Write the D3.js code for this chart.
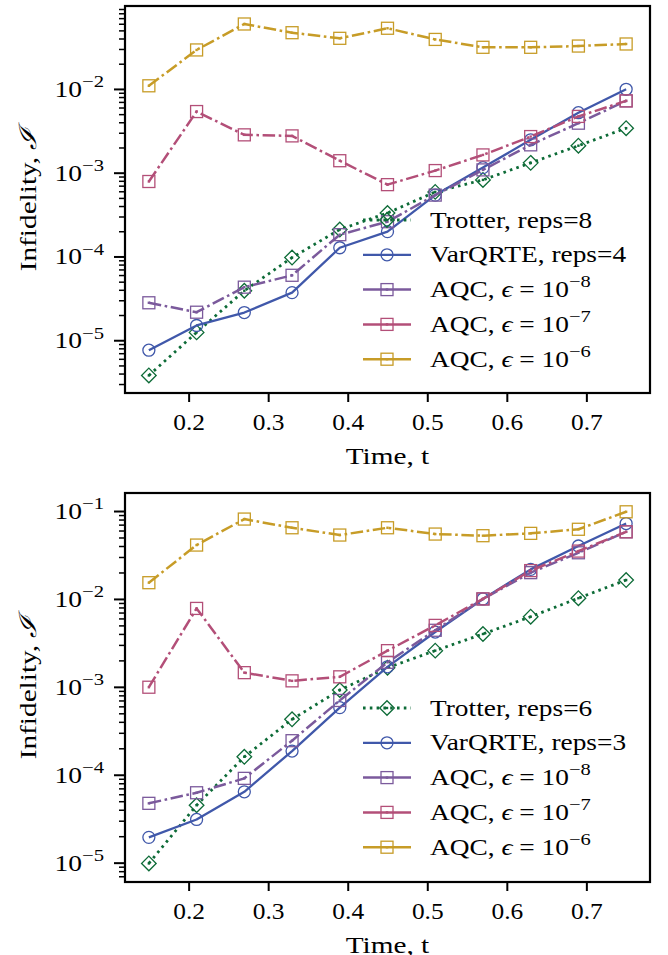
<!DOCTYPE html>
<html>
<head>
<meta charset="utf-8">
<script src="https://cdn.jsdelivr.net/npm/d3@7"></script>
<style>
  html, body { margin: 0; padding: 0; background: #fff; }
  svg { display: block; }
  text { font-family: "Liberation Serif", "DejaVu Serif", serif; fill: #000; }
</style>
</head>
<body>
<svg id="chart" width="668" height="955"></svg>
<script>
// ---------------- data ----------------
const times = [0.15, 0.21, 0.27, 0.33, 0.39, 0.45, 0.51, 0.57, 0.63, 0.69, 0.75];
const xTickValues = [0.2, 0.3, 0.4, 0.5, 0.6, 0.7];

// top panel
const topTrotter = [3.8e-6, 1.24e-5, 3.9e-5, 9.7e-5, 2.1e-4, 3.3e-4, 5.9e-4, 8.2e-4, 1.31e-3, 2.1e-3, 3.4e-3];
const topVarQRTE = [7.6e-6, 1.5e-5, 2.14e-5, 3.7e-5, 1.27e-4, 1.98e-4, 5.4e-4, 1.15e-3, 2.47e-3, 5.2e-3, 9.9e-3];
const topAQC8    = [2.8e-5, 2.16e-5, 4.3e-5, 5.96e-5, 1.82e-4, 2.6e-4, 5.4e-4, 1.08e-3, 2.15e-3, 3.9e-3, 7.2e-3];
const topAQC7    = [7.85e-4, 5.37e-3, 2.83e-3, 2.75e-3, 1.39e-3, 7.2e-4, 1.06e-3, 1.63e-3, 2.7e-3, 4.7e-3, 7.2e-3];
const topAQC6    = [1.09e-2, 2.92e-2, 5.96e-2, 4.69e-2, 4.02e-2, 5.3e-2, 3.9e-2, 3.14e-2, 3.14e-2, 3.25e-2, 3.44e-2];
const topLabels  = ["Trotter, reps=8", "VarQRTE, reps=4", "AQC|8", "AQC|7", "AQC|6"];
const topYMajor  = [1e-5, 1e-4, 1e-3, 1e-2];

// bottom panel
const botTrotter = [9.8e-6, 4.5e-5, 1.6e-4, 4.27e-4, 9.2e-4, 1.65e-3, 2.58e-3, 3.99e-3, 6.28e-3, 1.02e-2, 1.64e-2];
const botVarQRTE = [1.94e-5, 3.1e-5, 6.4e-5, 1.86e-4, 5.8e-4, 1.69e-3, 4.2e-3, 1.0e-2, 2.17e-2, 4.0e-2, 7.2e-2];
const botAQC8    = [4.73e-5, 6.24e-5, 9.1e-5, 2.44e-4, 7.0e-4, 1.9e-3, 4.4e-3, 1.0e-2, 1.99e-2, 3.35e-2, 5.8e-2];
const botAQC7    = [9.9e-4, 7.8e-3, 1.45e-3, 1.17e-3, 1.3e-3, 2.58e-3, 5.0e-3, 1.0e-2, 2.1e-2, 3.5e-2, 5.8e-2];
const botAQC6    = [1.53e-2, 4.1e-2, 8.1e-2, 6.45e-2, 5.33e-2, 6.45e-2, 5.47e-2, 5.24e-2, 5.57e-2, 6.2e-2, 9.8e-2];
const botLabels  = ["Trotter, reps=6", "VarQRTE, reps=3", "AQC|8", "AQC|7", "AQC|6"];
const botYMajor  = [1e-5, 1e-4, 1e-3, 1e-2, 1e-1];

const xLabel = "Time, t";
const yLabel = "Infidelity, ";

// ---------------- styles ----------------
const styles = [
  { color: "#0d6b37", dash: "2.6,4.2", width: 2.8, marker: "diamond" },
  { color: "#4058aa", dash: null,      width: 2.3, marker: "circle" },
  { color: "#7b5a9c", dash: "12.5,3.6,2.6,3.6", width: 2.5, marker: "square" },
  { color: "#b34f78", dash: "12.5,3.6,2.6,3.6", width: 2.5, marker: "square" },
  { color: "#c79c27", dash: "12.5,3.6,2.6,3.6", width: 2.5, marker: "square" }
];

const svg = d3.select("#chart");

// text inside a horizontally stretched group (to mimic the wider Computer Modern glyphs)
function stext(parent, x, y, anchor, size, sx, rot) {
  const g = parent.append("g")
    .attr("transform", `translate(${x},${y})` + (rot ? ` rotate(${rot})` : "") + ` scale(${sx},1)`);
  return g.append("text").attr("text-anchor", anchor).attr("font-size", size);
}

function drawMarker(g, type, cx, cy, color) {
  if (type === "circle") {
    g.append("circle").attr("cx", cx).attr("cy", cy).attr("r", 6)
      .attr("fill", "none").attr("stroke", color).attr("stroke-width", 1.3);
  } else if (type === "square") {
    g.append("rect").attr("x", cx - 6).attr("y", cy - 6).attr("width", 12).attr("height", 12)
      .attr("fill", "none").attr("stroke", color).attr("stroke-width", 1.3);
    g.append("rect").attr("x", cx - 1.2).attr("y", cy - 1.2).attr("width", 2.4).attr("height", 2.4)
      .attr("fill", color);
  } else {
    const h = 7.3;
    g.append("path").attr("d", `M${cx},${cy - h}L${cx + h},${cy}L${cx},${cy + h}L${cx - h},${cy}Z`)
      .attr("fill", "none").attr("stroke", color).attr("stroke-width", 1.3);
    g.append("rect").attr("x", cx - 1.2).attr("y", cy - 1.2).attr("width", 2.4).attr("height", 2.4)
      .attr("fill", color);
  }
}

function addPow(sel, exp, baseSize) {
  sel.append("tspan").text("10");
  sel.append("tspan").attr("dy", -baseSize * 0.42).attr("font-size", baseSize * 0.75).text("\u2212" + exp);
}

function panel(cfg) {
  const { left, right, top, bottom, yMin, yMax, series, labels, yMajor, legendY } = cfg;
  const x = d3.scaleLinear().domain([0.12, 0.78]).range([left, right]);
  const y = d3.scaleLog().domain([yMin, yMax]).range([bottom, top]);
  const g = svg.append("g");

  // x axis
  const xAxis = d3.axisBottom(x).tickValues(xTickValues).tickSize(9).tickFormat("");
  const gx = g.append("g").attr("transform", `translate(0,${bottom})`).call(xAxis);
  gx.select(".domain").remove();
  gx.selectAll(".tick line").attr("stroke", "#000").attr("stroke-width", 2);
  gx.selectAll(".tick").each(function (d) {
    stext(d3.select(this), 0, 37, "middle", 22.5, 1.13).text(d3.format(".1f")(d));
  });

  // y axis: major
  const yAxis = d3.axisLeft(y).tickValues(yMajor).tickSize(11).tickFormat("");
  const gy = g.append("g").attr("transform", `translate(${left},0)`).call(yAxis);
  gy.select(".domain").remove();
  gy.selectAll(".tick line").attr("stroke", "#000").attr("stroke-width", 2);
  gy.selectAll(".tick").each(function (d) {
    const t = stext(d3.select(this), -21, 7.5, "end", 23, 1.2);
    addPow(t, Math.round(-Math.log10(d)), 23);
  });
  // y axis: minor
  const minors = [];
  for (let e = -7; e <= 0; e++) for (let m = 2; m <= 9; m++) {
    const v = m * Math.pow(10, e);
    if (v >= yMin && v <= yMax) minors.push(v);
  }
  const gm = g.append("g").attr("transform", `translate(${left},0)`)
    .call(d3.axisLeft(y).tickValues(minors).tickSize(6).tickFormat(""));
  gm.select(".domain").remove();
  gm.selectAll(".tick line").attr("stroke", "#000").attr("stroke-width", 1.5);

  // clip
  const clipId = "clip" + top;
  g.append("clipPath").attr("id", clipId).append("rect")
    .attr("x", left).attr("y", top).attr("width", right - left).attr("height", bottom - top);

  const line = d3.line().x((d, i) => x(times[i])).y(d => y(d));
  const dataG = g.append("g").attr("clip-path", `url(#${clipId})`);
  series.forEach((vals, si) => {
    const st = styles[si];
    const sg = dataG.append("g");
    sg.append("path").attr("d", line(vals)).attr("fill", "none")
      .attr("stroke", st.color).attr("stroke-width", st.width)
      .attr("stroke-dasharray", st.dash).attr("stroke-linejoin", "round");
    vals.forEach((v, i) => drawMarker(sg, st.marker, x(times[i]), y(v), st.color));
  });

  // frame
  g.append("rect").attr("x", left).attr("y", top).attr("width", right - left).attr("height", bottom - top)
    .attr("fill", "none").attr("stroke", "#000").attr("stroke-width", 2.2);

  // legend
  const lg = g.append("g");
  labels.forEach((lab, i) => {
    const st = styles[i];
    const ly = legendY + i * 34.8;
    lg.append("line").attr("x1", 363).attr("x2", 411).attr("y1", ly).attr("y2", ly)
      .attr("stroke", st.color).attr("stroke-width", st.width)
      .attr("stroke-dasharray", st.marker === "diamond" ? "2.6,4.2" : null);
    drawMarker(lg, st.marker, 387, ly, st.color);
    const t = stext(lg, 430, ly + 7.5, "start", 23, 1.19);
    if (lab.startsWith("AQC|")) {
      const e = lab.split("|")[1];
      t.append("tspan").text("AQC, ");
      t.append("tspan").attr("font-style", "italic").text("\u03F5");
      t.append("tspan").text(" = ");
      addPow(t, e, 23);
    } else {
      t.text(lab);
    }
  });

  // x label
  stext(g, (left + right) / 2, bottom + 71, "middle", 24, 1.22).text(xLabel);
  // y label
  const yl = stext(g, 36, (top + bottom) / 2, "middle", 24, 1.22, -90);
  yl.append("tspan").text(yLabel);
  yl.append("tspan").attr("font-style", "italic").text("\u2110");
}

panel({
  left: 125, right: 650, top: 6, bottom: 393,
  yMin: Math.pow(10, -5.63), yMax: Math.pow(10, -1.01),
  series: [topTrotter, topVarQRTE, topAQC8, topAQC7, topAQC6],
  labels: topLabels, yMajor: topYMajor, legendY: 220
});
panel({
  left: 125, right: 650, top: 493, bottom: 882,
  yMin: Math.pow(10, -5.22), yMax: Math.pow(10, -0.795),
  series: [botTrotter, botVarQRTE, botAQC8, botAQC7, botAQC6],
  labels: botLabels, yMajor: botYMajor, legendY: 708
});
</script>
</body>
</html>
